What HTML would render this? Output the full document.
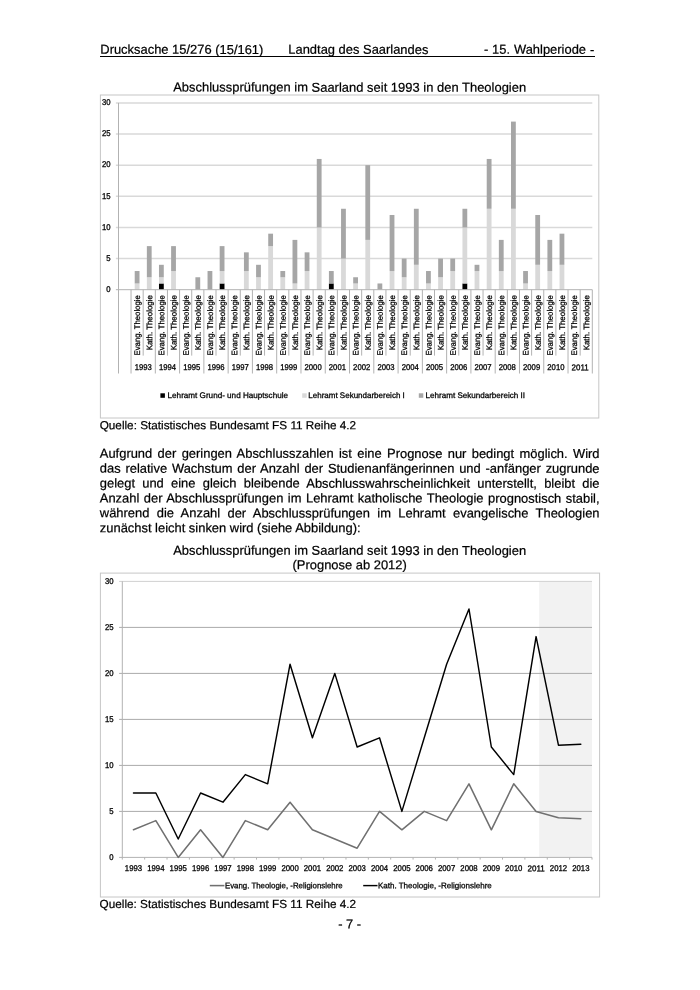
<!DOCTYPE html>
<html lang="de"><head><meta charset="utf-8"><title>Drucksache 15/276</title>
<style>
html,body{margin:0;padding:0;background:#fff;}
body{width:700px;height:990px;position:relative;overflow:hidden;font-family:"Liberation Sans",sans-serif;color:#000;}
.t{position:absolute;left:0;top:0;transform-origin:0 0;white-space:nowrap;-webkit-text-stroke:0.22px #000;font-size:12.93px;line-height:16px;height:16px;}
.q{font-size:11.76px;}
.j{width:499.75px;text-align:justify;text-align-last:justify;white-space:normal;}
.c{width:499.75px;text-align:center;}
svg{position:absolute;left:0;top:0;}
svg text{font-family:"Liberation Sans",sans-serif;font-size:8.4px;fill:#000;stroke:#000;stroke-width:0.3px;}
svg text.l{font-size:8.1px;stroke-width:0.28px;}
</style></head><body>

<div class="t " style="transform:translate(100.30px,41.82px) rotate(0.03deg);">Drucksache 15/276 (15/161)</div>
<div class="t " style="transform:translate(288.30px,41.82px) rotate(0.03deg);">Landtag des Saarlandes</div>
<div class="t " style="transform:translate(483.90px,41.82px) rotate(0.03deg);word-spacing:0.3px;">- 15. Wahlperiode -</div>
<div style="position:absolute;left:100.4px;top:56.1px;width:494.5px;height:0.9px;background:#000"></div>
<div class="t c" style="transform:translate(99.80px,79.52px) rotate(0.03deg);letter-spacing:0.022px;">Abschlussprüfungen im Saarland seit 1993 in den Theologien</div>
<div class="t q" style="transform:translate(99.70px,417.23px) rotate(0.03deg);">Quelle: Statistisches Bundesamt FS 11 Reihe 4.2</div>
<div class="t j" style="transform:translate(99.80px,445.72px) rotate(0.03deg);">Aufgrund der geringen Abschlusszahlen ist eine Prognose nur bedingt möglich. Wird</div>
<div class="t j" style="transform:translate(99.80px,460.62px) rotate(0.03deg);">das relative Wachstum der Anzahl der Studienanfängerinnen und -anfänger zugrunde</div>
<div class="t j" style="transform:translate(99.80px,475.52px) rotate(0.03deg);">gelegt und eine gleich bleibende Abschlusswahrscheinlichkeit unterstellt, bleibt die</div>
<div class="t j" style="transform:translate(99.80px,490.42px) rotate(0.03deg);">Anzahl der Abschlussprüfungen im Lehramt katholische Theologie prognostisch stabil,</div>
<div class="t j" style="transform:translate(99.80px,505.32px) rotate(0.03deg);">während die Anzahl der Abschlussprüfungen im Lehramt evangelische Theologien</div>
<div class="t " style="transform:translate(99.80px,520.22px) rotate(0.03deg);">zunächst leicht sinken wird (siehe Abbildung):</div>
<div class="t c" style="transform:translate(99.80px,542.72px) rotate(0.03deg);letter-spacing:0.022px;">Abschlussprüfungen im Saarland seit 1993 in den Theologien</div>
<div class="t c" style="transform:translate(99.80px,557.12px) rotate(0.03deg);">(Prognose ab 2012)</div>
<div class="t q" style="transform:translate(99.60px,895.93px) rotate(0.03deg);">Quelle: Statistisches Bundesamt FS 11 Reihe 4.2</div>
<div class="t c" style="transform:translate(99.80px,916.32px) rotate(0.03deg);margin-left:0.3px;">- 7 -</div>
<svg width="700" height="990" viewBox="0 0 700 990">
<rect x="100.4" y="95.0" width="498.4" height="323.0" fill="#fff" stroke="#c6c6c6" stroke-width="1"/>
<line x1="115.9" y1="258.57" x2="592.3" y2="258.57" stroke="#d9d9d9" stroke-width="1.5"/>
<line x1="115.9" y1="227.44" x2="592.3" y2="227.44" stroke="#d9d9d9" stroke-width="1.5"/>
<line x1="115.9" y1="196.31" x2="592.3" y2="196.31" stroke="#d9d9d9" stroke-width="1.5"/>
<line x1="115.9" y1="165.18" x2="592.3" y2="165.18" stroke="#d9d9d9" stroke-width="1.5"/>
<line x1="115.9" y1="134.05" x2="592.3" y2="134.05" stroke="#d9d9d9" stroke-width="1.5"/>
<line x1="115.9" y1="102.92" x2="592.3" y2="102.92" stroke="#d9d9d9" stroke-width="1.5"/>
<rect x="134.71" y="283.47" width="4.8" height="6.23" fill="#d9d9d9"/>
<rect x="134.71" y="271.02" width="4.8" height="12.45" fill="#a6a6a6"/>
<rect x="146.85" y="277.25" width="4.8" height="12.45" fill="#d9d9d9"/>
<rect x="146.85" y="246.12" width="4.8" height="31.13" fill="#a6a6a6"/>
<rect x="158.98" y="283.47" width="4.8" height="6.23" fill="#000000"/>
<rect x="158.98" y="277.25" width="4.8" height="6.23" fill="#d9d9d9"/>
<rect x="158.98" y="264.80" width="4.8" height="12.45" fill="#a6a6a6"/>
<rect x="171.12" y="271.02" width="4.8" height="18.68" fill="#d9d9d9"/>
<rect x="171.12" y="246.12" width="4.8" height="24.90" fill="#a6a6a6"/>
<rect x="195.40" y="277.25" width="4.8" height="12.45" fill="#a6a6a6"/>
<rect x="207.54" y="271.02" width="4.8" height="18.68" fill="#a6a6a6"/>
<rect x="219.68" y="283.47" width="4.8" height="6.23" fill="#000000"/>
<rect x="219.68" y="271.02" width="4.8" height="12.45" fill="#d9d9d9"/>
<rect x="219.68" y="246.12" width="4.8" height="24.90" fill="#a6a6a6"/>
<rect x="243.95" y="271.02" width="4.8" height="18.68" fill="#d9d9d9"/>
<rect x="243.95" y="252.34" width="4.8" height="18.68" fill="#a6a6a6"/>
<rect x="256.09" y="277.25" width="4.8" height="12.45" fill="#d9d9d9"/>
<rect x="256.09" y="264.80" width="4.8" height="12.45" fill="#a6a6a6"/>
<rect x="268.23" y="246.12" width="4.8" height="43.58" fill="#d9d9d9"/>
<rect x="268.23" y="233.67" width="4.8" height="12.45" fill="#a6a6a6"/>
<rect x="280.37" y="277.25" width="4.8" height="12.45" fill="#d9d9d9"/>
<rect x="280.37" y="271.02" width="4.8" height="6.23" fill="#a6a6a6"/>
<rect x="292.51" y="283.47" width="4.8" height="6.23" fill="#d9d9d9"/>
<rect x="292.51" y="239.89" width="4.8" height="43.58" fill="#a6a6a6"/>
<rect x="304.65" y="271.02" width="4.8" height="18.68" fill="#d9d9d9"/>
<rect x="304.65" y="252.34" width="4.8" height="18.68" fill="#a6a6a6"/>
<rect x="316.78" y="227.44" width="4.8" height="62.26" fill="#d9d9d9"/>
<rect x="316.78" y="158.95" width="4.8" height="68.49" fill="#a6a6a6"/>
<rect x="328.92" y="283.47" width="4.8" height="6.23" fill="#000000"/>
<rect x="328.92" y="271.02" width="4.8" height="12.45" fill="#a6a6a6"/>
<rect x="341.06" y="258.57" width="4.8" height="31.13" fill="#d9d9d9"/>
<rect x="341.06" y="208.76" width="4.8" height="49.81" fill="#a6a6a6"/>
<rect x="353.20" y="283.47" width="4.8" height="6.23" fill="#d9d9d9"/>
<rect x="353.20" y="277.25" width="4.8" height="6.23" fill="#a6a6a6"/>
<rect x="365.34" y="239.89" width="4.8" height="49.81" fill="#d9d9d9"/>
<rect x="365.34" y="165.18" width="4.8" height="74.71" fill="#a6a6a6"/>
<rect x="377.48" y="283.47" width="4.8" height="6.23" fill="#a6a6a6"/>
<rect x="389.62" y="271.02" width="4.8" height="18.68" fill="#d9d9d9"/>
<rect x="389.62" y="214.99" width="4.8" height="56.03" fill="#a6a6a6"/>
<rect x="401.75" y="277.25" width="4.8" height="12.45" fill="#d9d9d9"/>
<rect x="401.75" y="258.57" width="4.8" height="18.68" fill="#a6a6a6"/>
<rect x="413.89" y="264.80" width="4.8" height="24.90" fill="#d9d9d9"/>
<rect x="413.89" y="208.76" width="4.8" height="56.03" fill="#a6a6a6"/>
<rect x="426.03" y="283.47" width="4.8" height="6.23" fill="#d9d9d9"/>
<rect x="426.03" y="271.02" width="4.8" height="12.45" fill="#a6a6a6"/>
<rect x="438.17" y="277.25" width="4.8" height="12.45" fill="#d9d9d9"/>
<rect x="438.17" y="258.57" width="4.8" height="18.68" fill="#a6a6a6"/>
<rect x="450.31" y="271.02" width="4.8" height="18.68" fill="#d9d9d9"/>
<rect x="450.31" y="258.57" width="4.8" height="12.45" fill="#a6a6a6"/>
<rect x="462.45" y="283.47" width="4.8" height="6.23" fill="#000000"/>
<rect x="462.45" y="227.44" width="4.8" height="56.03" fill="#d9d9d9"/>
<rect x="462.45" y="208.76" width="4.8" height="18.68" fill="#a6a6a6"/>
<rect x="474.58" y="271.02" width="4.8" height="18.68" fill="#d9d9d9"/>
<rect x="474.58" y="264.80" width="4.8" height="6.23" fill="#a6a6a6"/>
<rect x="486.72" y="208.76" width="4.8" height="80.94" fill="#d9d9d9"/>
<rect x="486.72" y="158.95" width="4.8" height="49.81" fill="#a6a6a6"/>
<rect x="498.86" y="271.02" width="4.8" height="18.68" fill="#d9d9d9"/>
<rect x="498.86" y="239.89" width="4.8" height="31.13" fill="#a6a6a6"/>
<rect x="511.00" y="208.76" width="4.8" height="80.94" fill="#d9d9d9"/>
<rect x="511.00" y="121.60" width="4.8" height="87.16" fill="#a6a6a6"/>
<rect x="523.14" y="283.47" width="4.8" height="6.23" fill="#d9d9d9"/>
<rect x="523.14" y="271.02" width="4.8" height="12.45" fill="#a6a6a6"/>
<rect x="535.28" y="264.80" width="4.8" height="24.90" fill="#d9d9d9"/>
<rect x="535.28" y="214.99" width="4.8" height="49.81" fill="#a6a6a6"/>
<rect x="547.42" y="271.02" width="4.8" height="18.68" fill="#d9d9d9"/>
<rect x="547.42" y="239.89" width="4.8" height="31.13" fill="#a6a6a6"/>
<rect x="559.55" y="264.80" width="4.8" height="24.90" fill="#d9d9d9"/>
<rect x="559.55" y="233.67" width="4.8" height="31.13" fill="#a6a6a6"/>
<line x1="115.9" y1="289.7" x2="592.3" y2="289.7" stroke="#b2b2b2" stroke-width="1"/>
<line x1="118.5" y1="102.92" x2="118.5" y2="373.5" stroke="#b2b2b2" stroke-width="1"/>
<line x1="131.04" y1="289.7" x2="131.04" y2="373.5" stroke="#b2b2b2" stroke-width="1"/>
<line x1="143.18" y1="289.7" x2="143.18" y2="355.6" stroke="#b2b2b2" stroke-width="1"/>
<line x1="155.32" y1="289.7" x2="155.32" y2="373.5" stroke="#b2b2b2" stroke-width="1"/>
<line x1="167.45" y1="289.7" x2="167.45" y2="355.6" stroke="#b2b2b2" stroke-width="1"/>
<line x1="179.59" y1="289.7" x2="179.59" y2="373.5" stroke="#b2b2b2" stroke-width="1"/>
<line x1="191.73" y1="289.7" x2="191.73" y2="355.6" stroke="#b2b2b2" stroke-width="1"/>
<line x1="203.87" y1="289.7" x2="203.87" y2="373.5" stroke="#b2b2b2" stroke-width="1"/>
<line x1="216.01" y1="289.7" x2="216.01" y2="355.6" stroke="#b2b2b2" stroke-width="1"/>
<line x1="228.15" y1="289.7" x2="228.15" y2="373.5" stroke="#b2b2b2" stroke-width="1"/>
<line x1="240.28" y1="289.7" x2="240.28" y2="355.6" stroke="#b2b2b2" stroke-width="1"/>
<line x1="252.42" y1="289.7" x2="252.42" y2="373.5" stroke="#b2b2b2" stroke-width="1"/>
<line x1="264.56" y1="289.7" x2="264.56" y2="355.6" stroke="#b2b2b2" stroke-width="1"/>
<line x1="276.70" y1="289.7" x2="276.70" y2="373.5" stroke="#b2b2b2" stroke-width="1"/>
<line x1="288.84" y1="289.7" x2="288.84" y2="355.6" stroke="#b2b2b2" stroke-width="1"/>
<line x1="300.98" y1="289.7" x2="300.98" y2="373.5" stroke="#b2b2b2" stroke-width="1"/>
<line x1="313.12" y1="289.7" x2="313.12" y2="355.6" stroke="#b2b2b2" stroke-width="1"/>
<line x1="325.25" y1="289.7" x2="325.25" y2="373.5" stroke="#b2b2b2" stroke-width="1"/>
<line x1="337.39" y1="289.7" x2="337.39" y2="355.6" stroke="#b2b2b2" stroke-width="1"/>
<line x1="349.53" y1="289.7" x2="349.53" y2="373.5" stroke="#b2b2b2" stroke-width="1"/>
<line x1="361.67" y1="289.7" x2="361.67" y2="355.6" stroke="#b2b2b2" stroke-width="1"/>
<line x1="373.81" y1="289.7" x2="373.81" y2="373.5" stroke="#b2b2b2" stroke-width="1"/>
<line x1="385.95" y1="289.7" x2="385.95" y2="355.6" stroke="#b2b2b2" stroke-width="1"/>
<line x1="398.08" y1="289.7" x2="398.08" y2="373.5" stroke="#b2b2b2" stroke-width="1"/>
<line x1="410.22" y1="289.7" x2="410.22" y2="355.6" stroke="#b2b2b2" stroke-width="1"/>
<line x1="422.36" y1="289.7" x2="422.36" y2="373.5" stroke="#b2b2b2" stroke-width="1"/>
<line x1="434.50" y1="289.7" x2="434.50" y2="355.6" stroke="#b2b2b2" stroke-width="1"/>
<line x1="446.64" y1="289.7" x2="446.64" y2="373.5" stroke="#b2b2b2" stroke-width="1"/>
<line x1="458.78" y1="289.7" x2="458.78" y2="355.6" stroke="#b2b2b2" stroke-width="1"/>
<line x1="470.92" y1="289.7" x2="470.92" y2="373.5" stroke="#b2b2b2" stroke-width="1"/>
<line x1="483.05" y1="289.7" x2="483.05" y2="355.6" stroke="#b2b2b2" stroke-width="1"/>
<line x1="495.19" y1="289.7" x2="495.19" y2="373.5" stroke="#b2b2b2" stroke-width="1"/>
<line x1="507.33" y1="289.7" x2="507.33" y2="355.6" stroke="#b2b2b2" stroke-width="1"/>
<line x1="519.47" y1="289.7" x2="519.47" y2="373.5" stroke="#b2b2b2" stroke-width="1"/>
<line x1="531.61" y1="289.7" x2="531.61" y2="355.6" stroke="#b2b2b2" stroke-width="1"/>
<line x1="543.75" y1="289.7" x2="543.75" y2="373.5" stroke="#b2b2b2" stroke-width="1"/>
<line x1="555.88" y1="289.7" x2="555.88" y2="355.6" stroke="#b2b2b2" stroke-width="1"/>
<line x1="568.02" y1="289.7" x2="568.02" y2="373.5" stroke="#b2b2b2" stroke-width="1"/>
<line x1="580.16" y1="289.7" x2="580.16" y2="355.6" stroke="#b2b2b2" stroke-width="1"/>
<line x1="592.30" y1="289.7" x2="592.30" y2="373.5" stroke="#b2b2b2" stroke-width="1"/>
<text transform="translate(110.6,292.00) rotate(0.03)" text-anchor="end" textLength="4.3" lengthAdjust="spacingAndGlyphs">0</text>
<text transform="translate(110.6,260.87) rotate(0.03)" text-anchor="end" textLength="4.3" lengthAdjust="spacingAndGlyphs">5</text>
<text transform="translate(110.6,229.74) rotate(0.03)" text-anchor="end" textLength="8.6" lengthAdjust="spacingAndGlyphs">10</text>
<text transform="translate(110.6,198.61) rotate(0.03)" text-anchor="end" textLength="8.6" lengthAdjust="spacingAndGlyphs">15</text>
<text transform="translate(110.6,167.48) rotate(0.03)" text-anchor="end" textLength="8.6" lengthAdjust="spacingAndGlyphs">20</text>
<text transform="translate(110.6,136.35) rotate(0.03)" text-anchor="end" textLength="8.6" lengthAdjust="spacingAndGlyphs">25</text>
<text transform="translate(110.6,105.22) rotate(0.03)" text-anchor="end" textLength="8.6" lengthAdjust="spacingAndGlyphs">30</text>
<text class="l" transform="translate(140.11,295.2) rotate(-89.97)" text-anchor="end" textLength="60.3" lengthAdjust="spacingAndGlyphs">Evang. Theologie</text>
<text class="l" transform="translate(152.25,295.2) rotate(-89.97)" text-anchor="end" textLength="55.1" lengthAdjust="spacingAndGlyphs">Kath. Theologie</text>
<text class="l" transform="translate(164.38,295.2) rotate(-89.97)" text-anchor="end" textLength="60.3" lengthAdjust="spacingAndGlyphs">Evang. Theologie</text>
<text class="l" transform="translate(176.52,295.2) rotate(-89.97)" text-anchor="end" textLength="55.1" lengthAdjust="spacingAndGlyphs">Kath. Theologie</text>
<text class="l" transform="translate(188.66,295.2) rotate(-89.97)" text-anchor="end" textLength="60.3" lengthAdjust="spacingAndGlyphs">Evang. Theologie</text>
<text class="l" transform="translate(200.80,295.2) rotate(-89.97)" text-anchor="end" textLength="55.1" lengthAdjust="spacingAndGlyphs">Kath. Theologie</text>
<text class="l" transform="translate(212.94,295.2) rotate(-89.97)" text-anchor="end" textLength="60.3" lengthAdjust="spacingAndGlyphs">Evang. Theologie</text>
<text class="l" transform="translate(225.08,295.2) rotate(-89.97)" text-anchor="end" textLength="55.1" lengthAdjust="spacingAndGlyphs">Kath. Theologie</text>
<text class="l" transform="translate(237.22,295.2) rotate(-89.97)" text-anchor="end" textLength="60.3" lengthAdjust="spacingAndGlyphs">Evang. Theologie</text>
<text class="l" transform="translate(249.35,295.2) rotate(-89.97)" text-anchor="end" textLength="55.1" lengthAdjust="spacingAndGlyphs">Kath. Theologie</text>
<text class="l" transform="translate(261.49,295.2) rotate(-89.97)" text-anchor="end" textLength="60.3" lengthAdjust="spacingAndGlyphs">Evang. Theologie</text>
<text class="l" transform="translate(273.63,295.2) rotate(-89.97)" text-anchor="end" textLength="55.1" lengthAdjust="spacingAndGlyphs">Kath. Theologie</text>
<text class="l" transform="translate(285.77,295.2) rotate(-89.97)" text-anchor="end" textLength="60.3" lengthAdjust="spacingAndGlyphs">Evang. Theologie</text>
<text class="l" transform="translate(297.91,295.2) rotate(-89.97)" text-anchor="end" textLength="55.1" lengthAdjust="spacingAndGlyphs">Kath. Theologie</text>
<text class="l" transform="translate(310.05,295.2) rotate(-89.97)" text-anchor="end" textLength="60.3" lengthAdjust="spacingAndGlyphs">Evang. Theologie</text>
<text class="l" transform="translate(322.18,295.2) rotate(-89.97)" text-anchor="end" textLength="55.1" lengthAdjust="spacingAndGlyphs">Kath. Theologie</text>
<text class="l" transform="translate(334.32,295.2) rotate(-89.97)" text-anchor="end" textLength="60.3" lengthAdjust="spacingAndGlyphs">Evang. Theologie</text>
<text class="l" transform="translate(346.46,295.2) rotate(-89.97)" text-anchor="end" textLength="55.1" lengthAdjust="spacingAndGlyphs">Kath. Theologie</text>
<text class="l" transform="translate(358.60,295.2) rotate(-89.97)" text-anchor="end" textLength="60.3" lengthAdjust="spacingAndGlyphs">Evang. Theologie</text>
<text class="l" transform="translate(370.74,295.2) rotate(-89.97)" text-anchor="end" textLength="55.1" lengthAdjust="spacingAndGlyphs">Kath. Theologie</text>
<text class="l" transform="translate(382.88,295.2) rotate(-89.97)" text-anchor="end" textLength="60.3" lengthAdjust="spacingAndGlyphs">Evang. Theologie</text>
<text class="l" transform="translate(395.02,295.2) rotate(-89.97)" text-anchor="end" textLength="55.1" lengthAdjust="spacingAndGlyphs">Kath. Theologie</text>
<text class="l" transform="translate(407.15,295.2) rotate(-89.97)" text-anchor="end" textLength="60.3" lengthAdjust="spacingAndGlyphs">Evang. Theologie</text>
<text class="l" transform="translate(419.29,295.2) rotate(-89.97)" text-anchor="end" textLength="55.1" lengthAdjust="spacingAndGlyphs">Kath. Theologie</text>
<text class="l" transform="translate(431.43,295.2) rotate(-89.97)" text-anchor="end" textLength="60.3" lengthAdjust="spacingAndGlyphs">Evang. Theologie</text>
<text class="l" transform="translate(443.57,295.2) rotate(-89.97)" text-anchor="end" textLength="55.1" lengthAdjust="spacingAndGlyphs">Kath. Theologie</text>
<text class="l" transform="translate(455.71,295.2) rotate(-89.97)" text-anchor="end" textLength="60.3" lengthAdjust="spacingAndGlyphs">Evang. Theologie</text>
<text class="l" transform="translate(467.85,295.2) rotate(-89.97)" text-anchor="end" textLength="55.1" lengthAdjust="spacingAndGlyphs">Kath. Theologie</text>
<text class="l" transform="translate(479.98,295.2) rotate(-89.97)" text-anchor="end" textLength="60.3" lengthAdjust="spacingAndGlyphs">Evang. Theologie</text>
<text class="l" transform="translate(492.12,295.2) rotate(-89.97)" text-anchor="end" textLength="55.1" lengthAdjust="spacingAndGlyphs">Kath. Theologie</text>
<text class="l" transform="translate(504.26,295.2) rotate(-89.97)" text-anchor="end" textLength="60.3" lengthAdjust="spacingAndGlyphs">Evang. Theologie</text>
<text class="l" transform="translate(516.40,295.2) rotate(-89.97)" text-anchor="end" textLength="55.1" lengthAdjust="spacingAndGlyphs">Kath. Theologie</text>
<text class="l" transform="translate(528.54,295.2) rotate(-89.97)" text-anchor="end" textLength="60.3" lengthAdjust="spacingAndGlyphs">Evang. Theologie</text>
<text class="l" transform="translate(540.68,295.2) rotate(-89.97)" text-anchor="end" textLength="55.1" lengthAdjust="spacingAndGlyphs">Kath. Theologie</text>
<text class="l" transform="translate(552.82,295.2) rotate(-89.97)" text-anchor="end" textLength="60.3" lengthAdjust="spacingAndGlyphs">Evang. Theologie</text>
<text class="l" transform="translate(564.95,295.2) rotate(-89.97)" text-anchor="end" textLength="55.1" lengthAdjust="spacingAndGlyphs">Kath. Theologie</text>
<text class="l" transform="translate(577.09,295.2) rotate(-89.97)" text-anchor="end" textLength="60.3" lengthAdjust="spacingAndGlyphs">Evang. Theologie</text>
<text class="l" transform="translate(589.23,295.2) rotate(-89.97)" text-anchor="end" textLength="55.1" lengthAdjust="spacingAndGlyphs">Kath. Theologie</text>
<text transform="translate(143.18,370.3) rotate(0.03)" text-anchor="middle" textLength="17.1" lengthAdjust="spacingAndGlyphs">1993</text>
<text transform="translate(167.45,370.3) rotate(0.03)" text-anchor="middle" textLength="17.1" lengthAdjust="spacingAndGlyphs">1994</text>
<text transform="translate(191.73,370.3) rotate(0.03)" text-anchor="middle" textLength="17.1" lengthAdjust="spacingAndGlyphs">1995</text>
<text transform="translate(216.01,370.3) rotate(0.03)" text-anchor="middle" textLength="17.1" lengthAdjust="spacingAndGlyphs">1996</text>
<text transform="translate(240.28,370.3) rotate(0.03)" text-anchor="middle" textLength="17.1" lengthAdjust="spacingAndGlyphs">1997</text>
<text transform="translate(264.56,370.3) rotate(0.03)" text-anchor="middle" textLength="17.1" lengthAdjust="spacingAndGlyphs">1998</text>
<text transform="translate(288.84,370.3) rotate(0.03)" text-anchor="middle" textLength="17.1" lengthAdjust="spacingAndGlyphs">1999</text>
<text transform="translate(313.12,370.3) rotate(0.03)" text-anchor="middle" textLength="17.1" lengthAdjust="spacingAndGlyphs">2000</text>
<text transform="translate(337.39,370.3) rotate(0.03)" text-anchor="middle" textLength="17.1" lengthAdjust="spacingAndGlyphs">2001</text>
<text transform="translate(361.67,370.3) rotate(0.03)" text-anchor="middle" textLength="17.1" lengthAdjust="spacingAndGlyphs">2002</text>
<text transform="translate(385.95,370.3) rotate(0.03)" text-anchor="middle" textLength="17.1" lengthAdjust="spacingAndGlyphs">2003</text>
<text transform="translate(410.22,370.3) rotate(0.03)" text-anchor="middle" textLength="17.1" lengthAdjust="spacingAndGlyphs">2004</text>
<text transform="translate(434.50,370.3) rotate(0.03)" text-anchor="middle" textLength="17.1" lengthAdjust="spacingAndGlyphs">2005</text>
<text transform="translate(458.78,370.3) rotate(0.03)" text-anchor="middle" textLength="17.1" lengthAdjust="spacingAndGlyphs">2006</text>
<text transform="translate(483.05,370.3) rotate(0.03)" text-anchor="middle" textLength="17.1" lengthAdjust="spacingAndGlyphs">2007</text>
<text transform="translate(507.33,370.3) rotate(0.03)" text-anchor="middle" textLength="17.1" lengthAdjust="spacingAndGlyphs">2008</text>
<text transform="translate(531.61,370.3) rotate(0.03)" text-anchor="middle" textLength="17.1" lengthAdjust="spacingAndGlyphs">2009</text>
<text transform="translate(555.88,370.3) rotate(0.03)" text-anchor="middle" textLength="17.1" lengthAdjust="spacingAndGlyphs">2010</text>
<text transform="translate(580.16,370.3) rotate(0.03)" text-anchor="middle" textLength="17.1" lengthAdjust="spacingAndGlyphs">2011</text>
<rect x="160.4" y="393.3" width="4.5" height="4.5" fill="#000"/>
<text class="l" transform="translate(167.6,397.9) rotate(0.03)" textLength="120.4" lengthAdjust="spacingAndGlyphs">Lehramt Grund- und Hauptschule</text>
<rect x="302.2" y="393.3" width="4.5" height="4.5" fill="#d9d9d9"/>
<text class="l" transform="translate(308.3,397.9) rotate(0.03)" textLength="96.5" lengthAdjust="spacingAndGlyphs">Lehramt Sekundarbereich I</text>
<rect x="418.8" y="393.3" width="4.5" height="4.5" fill="#a6a6a6"/>
<text class="l" transform="translate(425.6,397.9) rotate(0.03)" textLength="99.4" lengthAdjust="spacingAndGlyphs">Lehramt Sekundarbereich II</text>
<rect x="100.4" y="573.1" width="499.2" height="323.9" fill="#fff" stroke="#c6c6c6" stroke-width="1"/>
<rect x="539.2" y="581.40" width="52.80" height="276.00" fill="#f2f2f2"/>
<line x1="119.1" y1="811.40" x2="592.0" y2="811.40" stroke="#ababab" stroke-width="1"/>
<line x1="119.1" y1="765.40" x2="592.0" y2="765.40" stroke="#ababab" stroke-width="1"/>
<line x1="119.1" y1="719.40" x2="592.0" y2="719.40" stroke="#ababab" stroke-width="1"/>
<line x1="119.1" y1="673.40" x2="592.0" y2="673.40" stroke="#ababab" stroke-width="1"/>
<line x1="119.1" y1="627.40" x2="592.0" y2="627.40" stroke="#ababab" stroke-width="1"/>
<line x1="119.1" y1="581.40" x2="592.0" y2="581.40" stroke="#d0d0d0" stroke-width="1"/>
<line x1="119.1" y1="857.4" x2="592.0" y2="857.4" stroke="#b2b2b2" stroke-width="1"/>
<line x1="122.3" y1="581.40" x2="122.3" y2="859.6" stroke="#b2b2b2" stroke-width="1"/>
<line x1="144.67" y1="857.4" x2="144.67" y2="859.6" stroke="#b2b2b2" stroke-width="1"/>
<line x1="167.03" y1="857.4" x2="167.03" y2="859.6" stroke="#b2b2b2" stroke-width="1"/>
<line x1="189.40" y1="857.4" x2="189.40" y2="859.6" stroke="#b2b2b2" stroke-width="1"/>
<line x1="211.77" y1="857.4" x2="211.77" y2="859.6" stroke="#b2b2b2" stroke-width="1"/>
<line x1="234.13" y1="857.4" x2="234.13" y2="859.6" stroke="#b2b2b2" stroke-width="1"/>
<line x1="256.50" y1="857.4" x2="256.50" y2="859.6" stroke="#b2b2b2" stroke-width="1"/>
<line x1="278.87" y1="857.4" x2="278.87" y2="859.6" stroke="#b2b2b2" stroke-width="1"/>
<line x1="301.23" y1="857.4" x2="301.23" y2="859.6" stroke="#b2b2b2" stroke-width="1"/>
<line x1="323.60" y1="857.4" x2="323.60" y2="859.6" stroke="#b2b2b2" stroke-width="1"/>
<line x1="345.97" y1="857.4" x2="345.97" y2="859.6" stroke="#b2b2b2" stroke-width="1"/>
<line x1="368.33" y1="857.4" x2="368.33" y2="859.6" stroke="#b2b2b2" stroke-width="1"/>
<line x1="390.70" y1="857.4" x2="390.70" y2="859.6" stroke="#b2b2b2" stroke-width="1"/>
<line x1="413.07" y1="857.4" x2="413.07" y2="859.6" stroke="#b2b2b2" stroke-width="1"/>
<line x1="435.43" y1="857.4" x2="435.43" y2="859.6" stroke="#b2b2b2" stroke-width="1"/>
<line x1="457.80" y1="857.4" x2="457.80" y2="859.6" stroke="#b2b2b2" stroke-width="1"/>
<line x1="480.17" y1="857.4" x2="480.17" y2="859.6" stroke="#b2b2b2" stroke-width="1"/>
<line x1="502.53" y1="857.4" x2="502.53" y2="859.6" stroke="#b2b2b2" stroke-width="1"/>
<line x1="524.90" y1="857.4" x2="524.90" y2="859.6" stroke="#b2b2b2" stroke-width="1"/>
<line x1="547.27" y1="857.4" x2="547.27" y2="859.6" stroke="#b2b2b2" stroke-width="1"/>
<line x1="569.63" y1="857.4" x2="569.63" y2="859.6" stroke="#b2b2b2" stroke-width="1"/>
<line x1="592.00" y1="857.4" x2="592.00" y2="859.6" stroke="#b2b2b2" stroke-width="1"/>
<text transform="translate(113.6,860.30) rotate(0.03)" text-anchor="end" textLength="4.3" lengthAdjust="spacingAndGlyphs">0</text>
<text transform="translate(113.6,814.30) rotate(0.03)" text-anchor="end" textLength="4.3" lengthAdjust="spacingAndGlyphs">5</text>
<text transform="translate(113.6,768.30) rotate(0.03)" text-anchor="end" textLength="8.6" lengthAdjust="spacingAndGlyphs">10</text>
<text transform="translate(113.6,722.30) rotate(0.03)" text-anchor="end" textLength="8.6" lengthAdjust="spacingAndGlyphs">15</text>
<text transform="translate(113.6,676.30) rotate(0.03)" text-anchor="end" textLength="8.6" lengthAdjust="spacingAndGlyphs">20</text>
<text transform="translate(113.6,630.30) rotate(0.03)" text-anchor="end" textLength="8.6" lengthAdjust="spacingAndGlyphs">25</text>
<text transform="translate(113.6,584.30) rotate(0.03)" text-anchor="end" textLength="8.6" lengthAdjust="spacingAndGlyphs">30</text>
<text transform="translate(133.48,871.3) rotate(0.03)" text-anchor="middle" textLength="17.3" lengthAdjust="spacingAndGlyphs">1993</text>
<text transform="translate(155.85,871.3) rotate(0.03)" text-anchor="middle" textLength="17.3" lengthAdjust="spacingAndGlyphs">1994</text>
<text transform="translate(178.22,871.3) rotate(0.03)" text-anchor="middle" textLength="17.3" lengthAdjust="spacingAndGlyphs">1995</text>
<text transform="translate(200.58,871.3) rotate(0.03)" text-anchor="middle" textLength="17.3" lengthAdjust="spacingAndGlyphs">1996</text>
<text transform="translate(222.95,871.3) rotate(0.03)" text-anchor="middle" textLength="17.3" lengthAdjust="spacingAndGlyphs">1997</text>
<text transform="translate(245.32,871.3) rotate(0.03)" text-anchor="middle" textLength="17.3" lengthAdjust="spacingAndGlyphs">1998</text>
<text transform="translate(267.68,871.3) rotate(0.03)" text-anchor="middle" textLength="17.3" lengthAdjust="spacingAndGlyphs">1999</text>
<text transform="translate(290.05,871.3) rotate(0.03)" text-anchor="middle" textLength="17.3" lengthAdjust="spacingAndGlyphs">2000</text>
<text transform="translate(312.42,871.3) rotate(0.03)" text-anchor="middle" textLength="17.3" lengthAdjust="spacingAndGlyphs">2001</text>
<text transform="translate(334.78,871.3) rotate(0.03)" text-anchor="middle" textLength="17.3" lengthAdjust="spacingAndGlyphs">2002</text>
<text transform="translate(357.15,871.3) rotate(0.03)" text-anchor="middle" textLength="17.3" lengthAdjust="spacingAndGlyphs">2003</text>
<text transform="translate(379.52,871.3) rotate(0.03)" text-anchor="middle" textLength="17.3" lengthAdjust="spacingAndGlyphs">2004</text>
<text transform="translate(401.88,871.3) rotate(0.03)" text-anchor="middle" textLength="17.3" lengthAdjust="spacingAndGlyphs">2005</text>
<text transform="translate(424.25,871.3) rotate(0.03)" text-anchor="middle" textLength="17.3" lengthAdjust="spacingAndGlyphs">2006</text>
<text transform="translate(446.62,871.3) rotate(0.03)" text-anchor="middle" textLength="17.3" lengthAdjust="spacingAndGlyphs">2007</text>
<text transform="translate(468.98,871.3) rotate(0.03)" text-anchor="middle" textLength="17.3" lengthAdjust="spacingAndGlyphs">2008</text>
<text transform="translate(491.35,871.3) rotate(0.03)" text-anchor="middle" textLength="17.3" lengthAdjust="spacingAndGlyphs">2009</text>
<text transform="translate(513.72,871.3) rotate(0.03)" text-anchor="middle" textLength="17.3" lengthAdjust="spacingAndGlyphs">2010</text>
<text transform="translate(536.08,871.3) rotate(0.03)" text-anchor="middle" textLength="17.3" lengthAdjust="spacingAndGlyphs">2011</text>
<text transform="translate(558.45,871.3) rotate(0.03)" text-anchor="middle" textLength="17.3" lengthAdjust="spacingAndGlyphs">2012</text>
<text transform="translate(580.82,871.3) rotate(0.03)" text-anchor="middle" textLength="17.3" lengthAdjust="spacingAndGlyphs">2013</text>
<polyline points="133.48,829.80 155.85,820.60 178.22,857.40 200.58,829.80 222.95,857.40 245.32,820.60 267.68,829.80 290.05,802.20 312.42,829.80 334.78,839.00 357.15,848.20 379.52,811.40 401.88,829.80 424.25,811.40 446.62,820.60 468.98,783.80 491.35,829.80 513.72,783.80 536.08,811.40 558.45,817.84 580.82,818.76" fill="none" stroke="#707070" stroke-width="1.55" stroke-linejoin="round" stroke-linecap="round"/>
<polyline points="133.48,793.00 155.85,793.00 178.22,839.00 200.58,793.00 222.95,802.20 245.32,774.60 267.68,783.80 290.05,664.20 312.42,737.80 334.78,673.40 357.15,747.00 379.52,737.80 401.88,811.40 424.25,737.80 446.62,664.20 468.98,609.00 491.35,747.00 513.72,774.60 536.08,636.60 558.45,745.16 580.82,744.24" fill="none" stroke="#000" stroke-width="1.45" stroke-linejoin="round" stroke-linecap="round"/>
<line x1="209.8" y1="885.6" x2="224.4" y2="885.6" stroke="#707070" stroke-width="1.55"/>
<text class="l" transform="translate(224.9,888.2) rotate(0.03)" textLength="117.8" lengthAdjust="spacingAndGlyphs">Evang. Theologie, -Religionslehre</text>
<line x1="363.2" y1="885.6" x2="377.5" y2="885.6" stroke="#000" stroke-width="1.45"/>
<text class="l" transform="translate(377.9,888.2) rotate(0.03)" textLength="113.9" lengthAdjust="spacingAndGlyphs">Kath. Theologie, -Religionslehre</text>
</svg>
</body></html>
